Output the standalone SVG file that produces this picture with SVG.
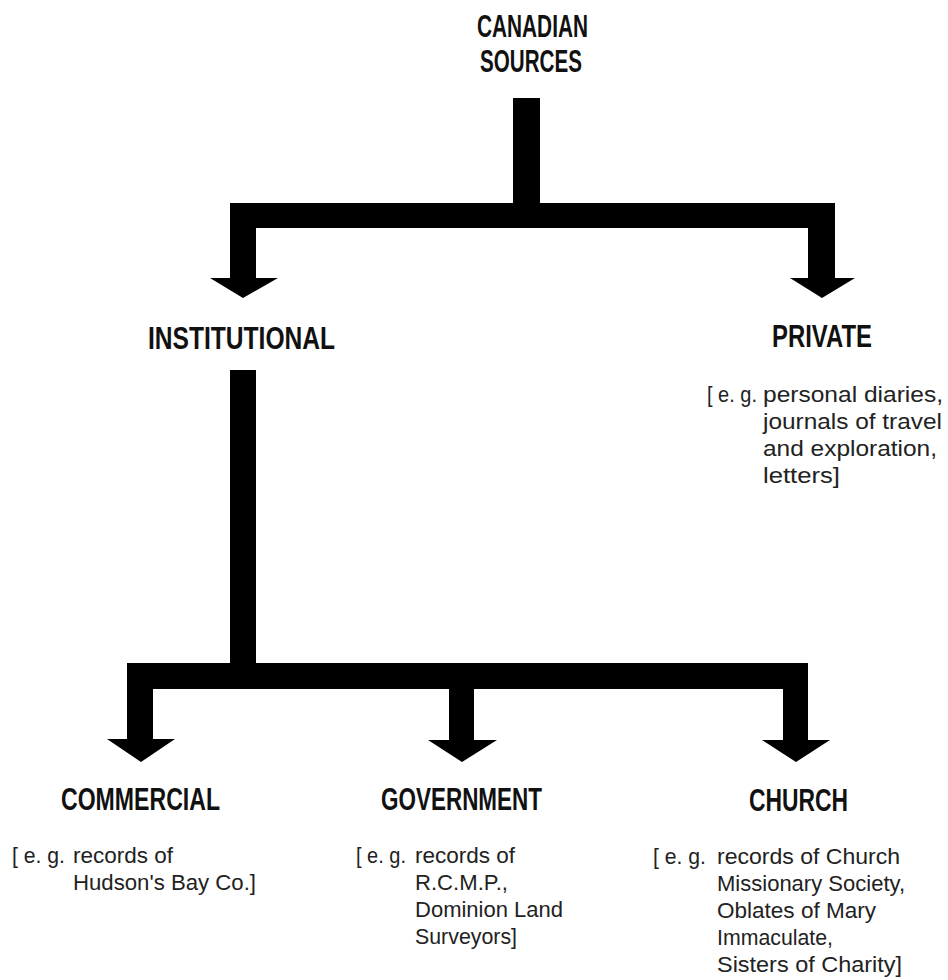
<svg xmlns="http://www.w3.org/2000/svg" width="948" height="980" viewBox="0 0 948 980">
<style>
.h{font-family:"Liberation Sans Narrow","Liberation Sans",Arial,sans-serif;font-weight:bold;font-size:31px;fill:#111}
.b{font-family:"Liberation Sans",Arial,sans-serif;font-size:22px;fill:#222}
.c{fill:#000}
</style>
<rect width="948" height="980" fill="#fff"/>
<g id="connectors" class="c">
<path d="M513,98 H540 V203 H835 V278 H855 L822,298 L790,278 H808 V228 H256 V278 H278 L243,298 L210,278 H230 V203 H513 Z"/>
<path d="M230,370 H256 V663 H808 V740 H830 L796,762 L762,740 H783 V689 H474 V740 H497 L462,762 L428,740 H449 V689 H153 V739 H175 L141,762 L107,739 H127 V663 H230 Z"/>
</g>
<g id="canadian-sources">
<text class="h" x="477" y="37" textLength="111" lengthAdjust="spacingAndGlyphs">CANADIAN</text>
<text class="h" x="480" y="72" textLength="102" lengthAdjust="spacingAndGlyphs">SOURCES</text>
</g>
<g id="institutional">
<text class="h" x="148" y="349" textLength="187" lengthAdjust="spacingAndGlyphs">INSTITUTIONAL</text>
</g>
<g id="private">
<text class="h" x="772" y="347" textLength="100" lengthAdjust="spacingAndGlyphs">PRIVATE</text>
<text class="b" x="707" y="402" textLength="50" lengthAdjust="spacingAndGlyphs">[ e. g.</text>
<text class="b" x="763" y="402" textLength="180" lengthAdjust="spacingAndGlyphs">personal diaries,</text>
<text class="b" x="763" y="429" textLength="179" lengthAdjust="spacingAndGlyphs">journals of travel</text>
<text class="b" x="763" y="456" textLength="174" lengthAdjust="spacingAndGlyphs">and exploration,</text>
<text class="b" x="763" y="483" textLength="77" lengthAdjust="spacingAndGlyphs">letters]</text>
</g>
<g id="commercial">
<text class="h" x="61" y="810" textLength="159" lengthAdjust="spacingAndGlyphs">COMMERCIAL</text>
<text class="b" x="12" y="863" textLength="53" lengthAdjust="spacingAndGlyphs">[ e. g.</text>
<text class="b" x="73" y="863" textLength="100" lengthAdjust="spacingAndGlyphs">records of</text>
<text class="b" x="73" y="890" textLength="183" lengthAdjust="spacingAndGlyphs">Hudson's Bay Co.]</text>
</g>
<g id="government">
<text class="h" x="381" y="810" textLength="161" lengthAdjust="spacingAndGlyphs">GOVERNMENT</text>
<text class="b" x="356" y="863" textLength="50" lengthAdjust="spacingAndGlyphs">[ e. g.</text>
<text class="b" x="415" y="863" textLength="100" lengthAdjust="spacingAndGlyphs">records of</text>
<text class="b" x="415" y="890" textLength="93" lengthAdjust="spacingAndGlyphs">R.C.M.P.,</text>
<text class="b" x="415" y="917" textLength="148" lengthAdjust="spacingAndGlyphs">Dominion Land</text>
<text class="b" x="415" y="944" textLength="102" lengthAdjust="spacingAndGlyphs">Surveyors]</text>
</g>
<g id="church">
<text class="h" x="749" y="811" textLength="99" lengthAdjust="spacingAndGlyphs">CHURCH</text>
<text class="b" x="653" y="864" textLength="53" lengthAdjust="spacingAndGlyphs">[ e. g.</text>
<text class="b" x="717" y="864" textLength="183" lengthAdjust="spacingAndGlyphs">records of Church</text>
<text class="b" x="717" y="891" textLength="188" lengthAdjust="spacingAndGlyphs">Missionary Society,</text>
<text class="b" x="717" y="918" textLength="159" lengthAdjust="spacingAndGlyphs">Oblates of Mary</text>
<text class="b" x="717" y="945" textLength="116" lengthAdjust="spacingAndGlyphs">Immaculate,</text>
<text class="b" x="717" y="972" textLength="185" lengthAdjust="spacingAndGlyphs">Sisters of Charity]</text>
</g>
</svg>
